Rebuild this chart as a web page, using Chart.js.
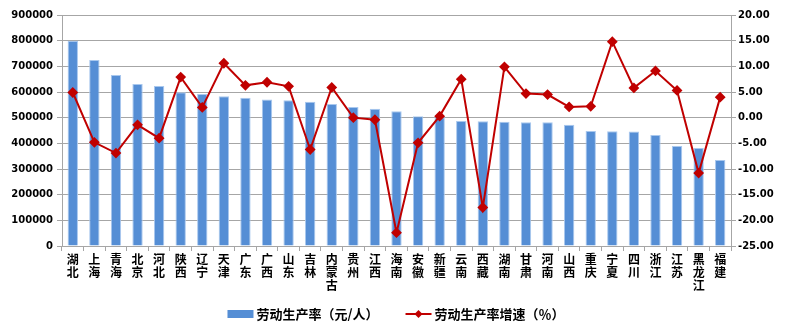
<!DOCTYPE html>
<html>
<head>
<meta charset="utf-8">
<script src="https://cdn.jsdelivr.net/npm/chart.js@4/dist/chart.umd.min.js"></script>
<style>
  body { margin: 0; background: #fff; }
  #wrap { width: 792px; height: 336px; }
</style>
</head>
<body>
<div id="wrap"><canvas id="myChart" width="792" height="336"></canvas></div>
<script>
const provinces = ['湖北','上海','青海','北京','河北','陕西','辽宁','天津','广东','广西','山东','吉林','内蒙古','贵州','江西','海南',
  '安徽','新疆','云南','西藏','湖南','甘肃','河南','山西','重庆','宁夏','四川','浙江','江苏','黑龙江','福建']
const productivity = [800000,725000,666000,631000,623000,599000,592000,583000,578000,571000,568000,562000,553000,542000,535000,525000,
  506000,502000,487000,486000,484000,482000,482000,472000,448000,447000,446000,432000,390000,382000,335000]
const growth = [4.9,-4.8,-6.9,-1.4,-4.0,7.9,2.0,10.6,6.3,6.9,6.1,-6.2,5.9,0.0,-0.4,-22.4,
  -4.9,0.3,7.5,-17.5,9.9,4.7,4.5,2.1,2.2,14.8,5.8,9.1,5.3,-10.8,4.0]
const leftTicks = [0, 900000, 100000]
const rightTicks = [-25, 20, 5]

const barColor = '#558ed5'
const lineColor = '#c00000'
const numFont = { family: 'DejaVu Sans', size: 10, weight: 'bold' }
const cjk = '"Noto Sans CJK SC", sans-serif'

// legend drawn by hand so the bar box and line+diamond look like the original
const bottomLegend = {
	id: 'bottomLegend',
	afterDraw(chart) {
		const ctx = chart.ctx
		const bars = chart.data.datasets[1]
		const line = chart.data.datasets[0]
		ctx.save()
		ctx.font = 'bold 13px ' + cjk
		ctx.textBaseline = 'middle'
		const w1 = ctx.measureText(bars.label).width
		const w2 = ctx.measureText(line.label).width
		const sw = 26, gap = 3, between = 27
		const total = sw + gap + w1 + between + sw + gap + w2
		let x = chart.width / 2 - total / 2
		const y = 314
		ctx.fillStyle = bars.backgroundColor
		ctx.fillRect(x, y - 4, sw, 8)
		ctx.fillStyle = '#000'
		ctx.fillText(bars.label, x + sw + gap, y)
		x += sw + gap + w1 + between
		ctx.strokeStyle = line.borderColor
		ctx.lineWidth = 2
		ctx.beginPath(); ctx.moveTo(x, y); ctx.lineTo(x + sw, y); ctx.stroke()
		ctx.fillStyle = line.borderColor
		ctx.beginPath()
		ctx.moveTo(x + sw / 2, y - 4); ctx.lineTo(x + sw / 2 + 4, y); ctx.lineTo(x + sw / 2, y + 4); ctx.lineTo(x + sw / 2 - 4, y)
		ctx.closePath(); ctx.fill()
		ctx.fillStyle = '#000'
		ctx.fillText(line.label, x + sw + gap, y)
		ctx.restore()
	}
}

new Chart(document.getElementById('myChart').getContext('2d'), {
	type: 'bar',
	data: {
		labels: provinces.map(p => p.split('')),
		datasets: [
			{
				type: 'line',
				label: '劳动生产率增速（％）',
				data: growth,
				yAxisID: 'y1',
				borderColor: lineColor,
				backgroundColor: lineColor,
				borderWidth: 2,
				pointStyle: 'rectRot',
				pointRadius: 4,
				pointHoverRadius: 4,
				tension: 0,
				order: 0
			},
			{
				label: '劳动生产率（元/人）',
				data: productivity,
				yAxisID: 'y',
				backgroundColor: barColor,
				borderColor: '#a9c8ee',
				borderWidth: { top: 1, left: 1, right: 1, bottom: 0 },
				barPercentage: 0.48,
				categoryPercentage: 1,
				order: 1
			}
		]
	},
	options: {
		responsive: false,
		animation: false,
		layout: { padding: { top: 15, left: 0, right: 0, bottom: 40 } },
		plugins: { legend: { display: false }, tooltip: { enabled: false } },
		scales: {
			x: {
				offset: true,
				afterFit: s => { s.height = 50 },
				grid: { offset: true, drawOnChartArea: false, drawTicks: true, tickLength: 5, color: '#a6a6a6' },
				border: { color: '#a6a6a6' },
				ticks: {
					autoSkip: false, maxRotation: 0, minRotation: 0, padding: 2, color: '#000',
					font: { family: cjk, size: 12, weight: 'bold', lineHeight: 1.08 }
				}
			},
			y: {
				position: 'left',
				min: leftTicks[0], max: leftTicks[1],
				afterFit: s => { s.width = 62 },
				grid: { color: '#a6a6a6', tickLength: 5, lineWidth: 1 },
				border: { color: '#a6a6a6' },
				ticks: { stepSize: leftTicks[2], padding: 4, color: '#000', font: numFont, callback: v => String(v) }
			},
			y1: {
				position: 'right',
				min: rightTicks[0], max: rightTicks[1],
				afterFit: s => { s.width = 61 },
				grid: { drawOnChartArea: false, tickLength: 5, color: '#a6a6a6' },
				border: { color: '#a6a6a6' },
				ticks: { stepSize: rightTicks[2], padding: 2, color: '#000', font: numFont, callback: v => v.toFixed(2) }
			}
		}
	},
	plugins: [bottomLegend]
})
</script>
</body>
</html>
